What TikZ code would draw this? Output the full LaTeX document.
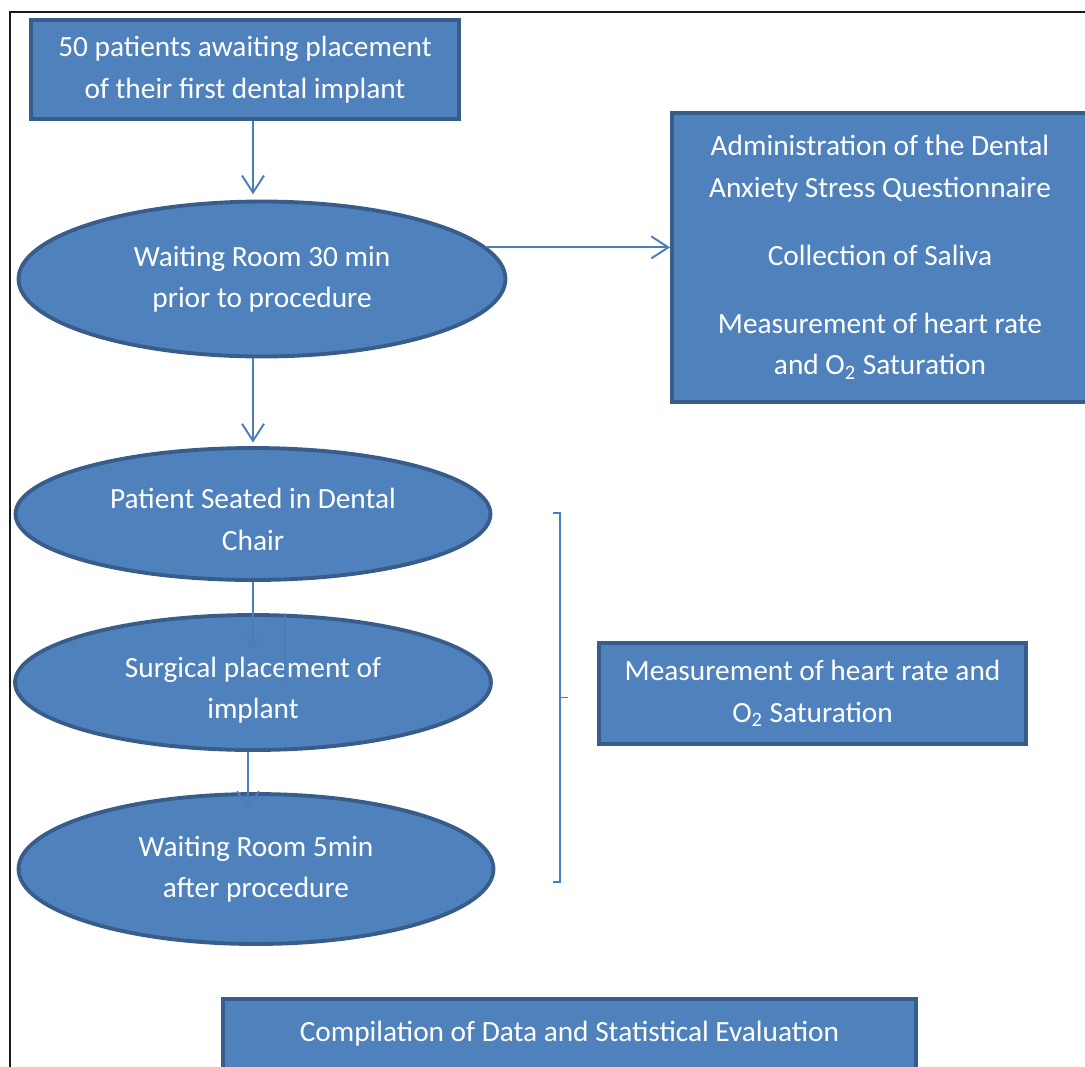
\documentclass[tikz,border=0pt]{standalone}
\usepackage{fontspec}
\setmainfont{Carlito}
\usepackage{tikz}
\usetikzlibrary{arrows.meta}
\usetikzlibrary{shapes.geometric}
\definecolor{boxfill}{HTML}{4F81BD}
\definecolor{boxline}{HTML}{385D8A}
\definecolor{linkcol}{HTML}{4A7EBB}
\definecolor{framecol}{HTML}{1A1A1A}
\begin{document}
\begin{tikzpicture}[x=0.02cm,y=-0.02cm,>={Straight Barb[length=3.4mm,width=4.4mm]},
    box node/.style={rectangle,draw=boxline,fill=boxfill,line width=2.2pt,text=white,align=center,
      font=\fontsize{16.7}{23.6}\selectfont},
    oval node/.style={ellipse,draw=boxline,fill=boxfill,line width=2.2pt,text=white,align=center,
      font=\fontsize{16.7}{23.6}\selectfont},
    link/.style={->,draw=linkcol,line width=1.1pt}]
  \useasboundingbox (0,0) rectangle (1085,1066);
  \clip (0,0) rectangle (1085,1066);
  % frame
  \draw[framecol,line width=0.8pt] (10,1080) -- (10,12) -- (1100,12);

  \node[box node,minimum width=8.56cm,minimum height=1.98cm] (start) at (245,69.5)
    {50 patients awaiting placement\\of their first dental implant};
  \node[oval node,minimum width=9.74cm,minimum height=3.1cm] (wait30) at (262,279)
    {Waiting Room 30 min\\prior to procedure};
  \node[box node,minimum width=8.32cm,minimum height=5.78cm] (baseline) at (880,257.5)
    {Administration of the Dental\\Anxiety Stress Questionnaire\\[0.53cm]Collection of Saliva\\[0.53cm]%
     Measurement of heart rate\\and O\textsubscript{2} Saturation};
  \node[oval node,minimum width=9.5cm,minimum height=2.64cm,text height=1.45cm] (seated) at (253,514)
    {Patient Seated in Dental\\Chair};
  \node[oval node,minimum width=9.52cm,minimum height=2.7cm,text height=1.45cm,text depth=0cm] (surgery) at (253,682.5)
    {Surgical placement of\\implant};
  \node[oval node,minimum width=9.5cm,minimum height=3.0cm] (wait5) at (256,869)
    {Waiting Room 5min\\after procedure};
  \node[box node,minimum width=8.54cm,minimum height=2.02cm] (heart) at (812.5,693.5)
    {Measurement of heart rate and\\O\textsubscript{2} Saturation};
  \node[box node,minimum width=13.86cm,minimum height=1.64cm,text height=0.44cm,text depth=0.4cm] (stats) at (569.5,1040)
    {Compilation of Data and Statistical Evaluation};

  \coordinate (stray) at (285,615);

  \draw[link,shorten >=3pt] (start.south -| seated) -- (wait30.north -| seated);
  \draw[link,shorten >=2pt] (wait30.south -| seated) -- (seated.north);
  \draw[link] (wait30.8) -- (wait30.8 -| baseline.west);
  \draw[link] (seated.south) -- ([yshift=-0.74cm]surgery.north);
  \draw[link,-] (stray) -- (stray |- surgery.center);
  \draw[link] ([xshift=-0.1cm]surgery.south) -- ([xshift=-0.16cm,yshift=-0.36cm]wait5.north);
  % bracket
  \draw[linkcol,line width=0.8pt] (553,513) -- (560,513) -- (560,882) -- (553,882);
  \draw[linkcol,line width=0.8pt] (560,697.5) -- (568,697.5);
\end{tikzpicture}
\end{document}
